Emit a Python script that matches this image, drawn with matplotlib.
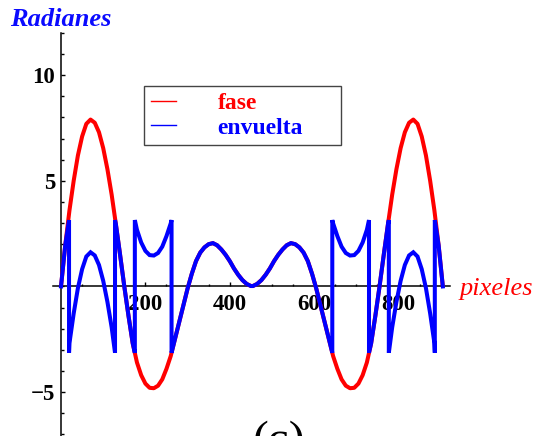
import numpy as np
import matplotlib.pyplot as plt
from matplotlib.lines import Line2D
from matplotlib.ticker import FixedLocator, MultipleLocator, NullFormatter

# muestras de la fase (cada 10 pixeles, dos mitades)
pixeles = np.concatenate([np.arange(0, 451, 10), np.arange(455, 906, 10)])
fase = np.array([
    0.0, 1.95, 3.6, 5.0, 6.2, 7.1, 7.7, 7.9, 7.75, 7.3,
    6.55, 5.55, 4.35, 2.95, 1.5, 0.0, -1.4, -2.7, -3.6, -4.2,
    -4.6, -4.8, -4.82, -4.7, -4.4, -3.9, -3.3, -2.5, -1.7, -0.9,
    -0.1, 0.6, 1.2, 1.6, 1.85, 2.0, 2.05, 1.95, 1.75, 1.5,
    1.2, 0.85, 0.55, 0.3, 0.12, 0.02,
    0.02, 0.12, 0.3, 0.55, 0.85, 1.2, 1.5, 1.75, 1.95, 2.05,
    2.0, 1.85, 1.6, 1.2, 0.6, -0.1, -0.9, -1.7, -2.5, -3.3,
    -3.9, -4.4, -4.7, -4.82, -4.8, -4.6, -4.2, -3.6, -2.7, -1.4,
    0.0, 1.5, 2.95, 4.35, 5.55, 6.55, 7.3, 7.75, 7.9, 7.7,
    7.1, 6.2, 5.0, 3.6, 1.95, 0.0,
])

# posiciones donde la fase envuelta salta de +pi a -pi (o al reves)
saltos = [19, 128, 175, 262, 643, 730, 777, 886]

# fase envuelta en [-pi, pi)
env = (fase + np.pi) % (2 * np.pi) - np.pi

# armar la curva envuelta con los saltos verticales
xe, ye = [], []
k = 0
for xs in saltos:
    while k < len(pixeles) and pixeles[k] < xs:
        xe.append(pixeles[k]); ye.append(env[k]); k += 1
    s = np.sign(ye[-1])
    xe += [xs, xs]; ye += [s * np.pi, -s * np.pi]
xe += list(pixeles[k:]); ye += list(env[k:])

plt.rcParams['font.family'] = ['Liberation Serif', 'DejaVu Serif']

fig = plt.figure(figsize=(5.36, 4.36), dpi=100)
ax = fig.add_axes([53 / 536, -4.6 / 436, 397 / 536, 407.6 / 436])

ax.plot(pixeles, fase, color='#ff0000', lw=2.9, zorder=3, solid_capstyle='butt')
ax.plot(xe, ye, color='#0000ff', lw=2.9, zorder=4, solid_joinstyle='miter')

ax.set_xlim(-19, 922)
ax.set_ylim(-7.3, 12)

for s in ['top', 'right']:
    ax.spines[s].set_visible(False)
ax.spines['left'].set_position(('data', 0))
ax.spines['bottom'].set_position(('data', 0))
ax.spines['left'].set_bounds(-7.3, 12)
for s in ['left', 'bottom']:
    ax.spines[s].set_linewidth(1.1)

ax.xaxis.set_major_locator(FixedLocator([200, 400, 600, 800]))
ax.xaxis.set_minor_locator(FixedLocator(np.arange(50, 901, 50)))
ax.yaxis.set_major_locator(FixedLocator([-5, 5, 10]))
ax.yaxis.set_minor_locator(MultipleLocator(1))
ax.xaxis.set_minor_formatter(NullFormatter())
ax.yaxis.set_minor_formatter(NullFormatter())

ax.tick_params(which='both', direction='in', width=1.0, labelsize=16.5)
ax.tick_params(which='major', length=3.2)
ax.tick_params(which='minor', length=1.8)
ax.tick_params(axis='x', pad=5.5)
ax.tick_params(axis='y', pad=4.3)
for lab in ax.get_xticklabels() + ax.get_yticklabels():
    lab.set_fontweight('bold')

# leyenda
handles = [Line2D([], [], color='#ff0000', lw=1.0),
           Line2D([], [], color='#0000ff', lw=1.0)]
leg = ax.legend(handles, ['fase', 'envuelta'],
                loc='upper left', mode='expand',
                bbox_to_anchor=(144 / 536, 0.6651, 197 / 536, 0.1376),
                bbox_transform=fig.transFigure, borderaxespad=0,
                prop={'weight': 'bold', 'size': 17},
                labelcolor=['#ff0000', '#0000ff'],
                handlelength=1.06, handletextpad=1.78,
                borderpad=0.28, labelspacing=0.12,
                fancybox=False, framealpha=1, edgecolor='#444444')
leg.get_frame().set_linewidth(1.0)

fig.text(10 / 536, 1 - 26 / 436, 'Radianes', color='#0a0aff', fontsize=19,
         fontweight='bold', fontstyle='italic', ha='left', va='baseline')
fig.text(460 / 536, 1 - 295 / 436, 'pixeles', color='#ff0000', fontsize=19,
         fontstyle='italic', ha='left', va='baseline')
fig.text(279 / 536, 1 - 453 / 436, '(c)', color='black', fontsize=34,
         ha='center', va='baseline')

fig.savefig('out.png', dpi=100)
